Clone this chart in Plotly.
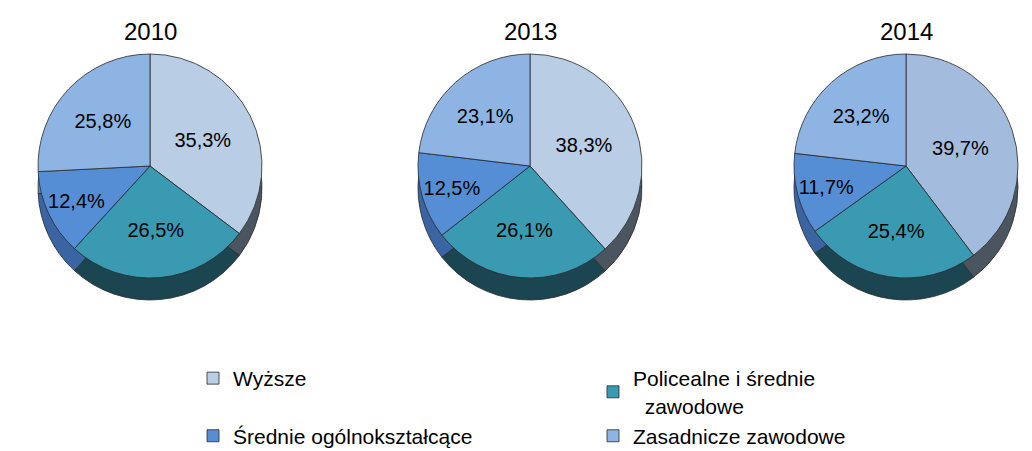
import plotly.graph_objects as go

years = ["2010", "2013", "2014"]
categories = ["Wyższe", "Policealne i średnie<br>\u00a0\u00a0zawodowe", "Średnie ogólnokształcące", "Zasadnicze zawodowe"]
values_2010 = [35.3, 26.5, 12.4, 25.8]
values_2013 = [38.3, 26.1, 12.5, 23.1]
values_2014 = [39.7, 25.4, 11.7, 23.2]
series = [values_2010, values_2013, values_2014]

top_colors = ["#B9CDE5", "#3A9AB2", "#558ED5", "#8DB4E2"]
top_colors_2014 = ["#A3BCDD", "#3A9AB2", "#558ED5", "#8DB4E2"]
side_colors = ["#4A5560", "#1B4651", "#3B64A3", "#5F86B8"]

W, H = 1032, 451
OFF = 8  # page body margin offset
centers_x = [150 - OFF, 530 - OFF, 906 - OFF]
R = 112
cy_top = 166 - OFF
depth = 22

fig = go.Figure()

def dom(cx, cy, r):
    return dict(x=[(cx - r) / W, (cx + r) / W], y=[1 - (cy + r) / H, 1 - (cy - r) / H])

for i, (yr, vals, cx) in enumerate(zip(years, series, centers_x)):
    # side (depth) layer
    fig.add_trace(go.Pie(
        labels=categories, values=vals, sort=False, direction="clockwise",
        domain=dom(cx, cy_top + depth, R),
        marker=dict(colors=side_colors, line=dict(color="#2a2a2a", width=0.8)),
        textinfo="none", hoverinfo="skip", showlegend=False,
    ))
for i, (yr, vals, cx) in enumerate(zip(years, series, centers_x)):
    cols = top_colors_2014 if yr == "2014" else top_colors
    fig.add_trace(go.Pie(
        labels=categories, values=vals, sort=False, direction="clockwise",
        domain=dom(cx, cy_top, R),
        marker=dict(colors=cols, line=dict(color="#2a2a2a", width=0.8)),
        text=[f"{v:.1f}".replace(".", ",") + "%" for v in vals],
        textinfo="text", textposition="inside", insidetextorientation="horizontal",
        textfont=dict(size=20, color="#000000"),
        showlegend=(i == 0), name=yr,
    ))
    fig.add_annotation(x=cx / W, y=1 - (31 - OFF) / H, xref="paper", yref="paper",
                       text=yr, showarrow=False, xanchor="center", yanchor="middle",
                       font=dict(size=24, color="#000000"))

fig.update_layout(
    width=W, height=H,
    margin=dict(l=0, r=0, t=0, b=0, autoexpand=False),
    paper_bgcolor="white", plot_bgcolor="white",
    font=dict(family="Liberation Sans, Arial, sans-serif", color="#000000"),
    legend=dict(orientation="h", x=(193 - OFF) / W, y=1 - (358 - OFF) / H, xanchor="left", yanchor="top",
                entrywidth=355, entrywidthmode="pixels",
                font=dict(size=21), traceorder="normal"),
)

fig.write_html("out.html")
